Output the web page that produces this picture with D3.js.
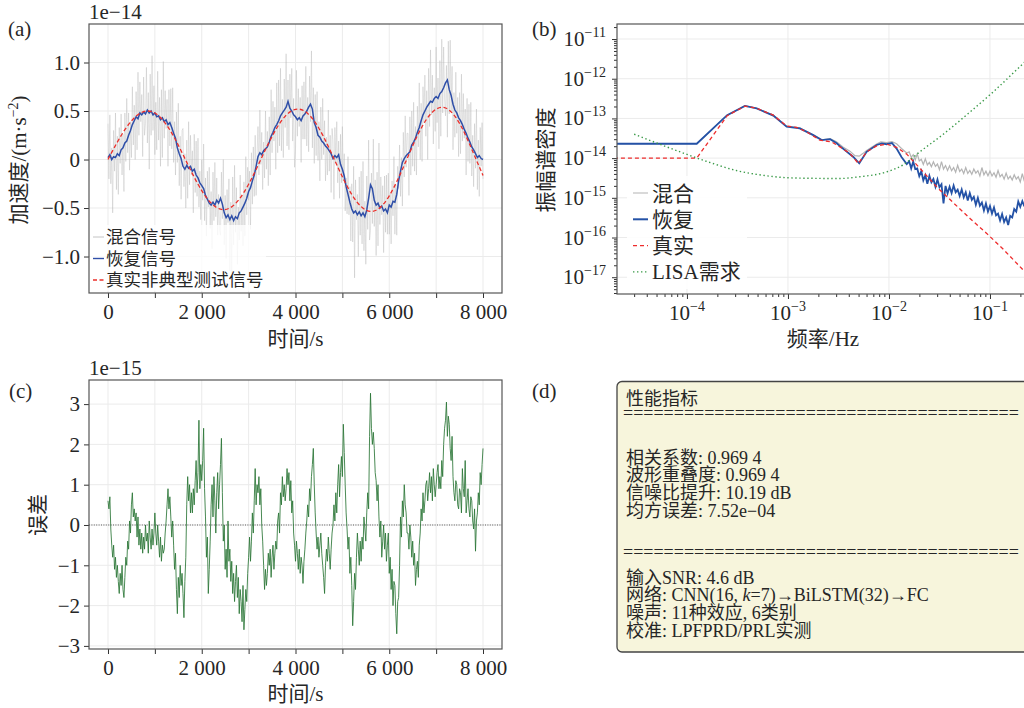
<!DOCTYPE html>
<html>
<head>
<meta charset="utf-8">
<script src="https://cdn.jsdelivr.net/npm/d3@7/dist/d3.min.js"></script>
<style>
  body { margin: 0; background: #fff; }
  text { font-family: 'Liberation Serif', 'Times New Roman', 'Noto Sans CJK SC', serif; fill: #262626; }
</style>
</head>
<body>
<svg id="chart" width="1024" height="708"></svg>
<script>
// ---------- time series (a): values in 1e-14 m/s^2, (c): values in 1e-15
const mixStep = 20, recStep = 40, trueStep = 200, errStep = 20;

const mixedSignal = [
  .37,-.20,.46,-.25,.12,-.55,.30,-.12,.48,-.31, .24,-.36,.33,-.04,.47,-.16,.26,-.33,.48,-.02,
  .63,.07,.48,-.11,.39,.02,.75,.15,.56,.00, .70,.10,.90,.25,.80,.39,.67,.03,.85,.25,
  .37,.95,.17,.69,-.10,.88,.25,1.07,.30,.76, .05,.59,.10,.91,.20,.64,-.07,.72,.02,1.01,
  .22,.71,.32,.62,-.07,.72,.14,.73,.11,.74, -.03,.39,-.16,.49,-.03,.58,-.27,.24,-.41,.30,
  .32,-.28,.06,-.50,.20,-.40,.39,-.26,.25,-.16, .09,-.55,.26,-.34,.19,-.38,.22,-.49,-.12,-.62,
  .00,-.42,.16,-.63,-.19,-.79,-.12,-.49,-.08,-.71, -.33,-.92,-.13,-.63,-.03,-.59,-.19,-.78,-.36,-.73,
  -.78,-.13,-.61,.00,-.88,-.37,-1.02,-.31,-.65,-.20, -1.15,-.44,-1.17,-.18,-.88,-.06,-.75,-.29,-1.08,-.49,
  -.83,-.16,-.74,-.37,-.89,-.23,-.79,.03,-.57,-.08, -.42,-.12,-.72,.07,-.46,.13,-.38,.25,-.37,.05,
  .34,-.16,.51,-.05,.28,-.31,.18,-.19,.50,-.10, .29,-.27,.44,-.16,.72,.07,.60,.19,.54,-.10,
  .79,.07,.82,.14,.94,.09,.62,.02,.83,.33, 1.09,.14,.82,.10,.88,.43,.94,.19,.63,-.08,
  .10,.92,.24,.73,.34,.64,-.03,.76,.21,.80, .21,.96,.14,.64,.08,.86,.39,1.12,.12,.74,
  -.04,.67,.04,.70,-.01,.39,-.22,.54,.00,.63, .05,.40,-.22,.23,-.16,.51,-.12,.25,-.34,.32,
  .19,-.41,.33,-.04,.39,-.24,.19,-.40,.26,-.24, .34,-.22,.06,-.53,-.19,-.56,.03,-.57,-.28,-.84,
  -.25,-.85,-.07,-1.22,-.21,-.62,-.36,-1.00,-.18,-.78, -.12,-.87,-.02,-.94,-.43,-1.08,-.17,-.72,.20,-.83,
  -.73,-.14,-.66,.21,-.69,-.21,-.99,-.13,-.89,.17, -.67,-.18,-.57,-.27,-.96,-.17,-.75,-.16,-.77,-.14,
  -.77,-.35,-.87,-.22,-.58,.03,-.77,-.26,-.78,-.07, -.30,.15,-.38,.02,-.48,.28,-.18,.45,-.08,.27,
  .27,-.37,.44,-.16,.50,-.07,.59,-.12,.34,-.16, .55,.13,.79,.00,.58,-.02,.75,.38,.87,.24,
  .71,.00,.94,.34,1.13,.46,.87,.16,.74,.29, 1.16,.38,.84,.11,1.02,.24,1.24,.48,1.16,.62,
  .45,.97,.23,1.22,.47,1.23,.50,.96,.10,.69, .23,.90,.27,.64,.03,.69,.06,.88,.19,.68,
  .22,.52,-.16,.63,-.02,.57,-.04,.59,-.17,.25, -.28,.37,-.09,.52,-.31,.20,-.38,.33,-.07,.38,
  -.20
];

const recoveredSignal = [
  .02,.05,.00,.03,.02, .06,.04,.10,.12,.17, .19,.25,.30,.36,.40, .44,.42,.48,.46,.49,
  .47,.51,.48,.50,.46, .48,.44,.45,.41,.43, .39,.41,.36,.38,.33, .27,.22,.12,.06,.01,
  -.07,-.10,-.06,-.09,-.07, -.12,-.10,-.16,-.19,-.24, -.27,-.30,-.37,-.41,-.45, -.47,-.44,-.47,-.42,-.45,
  -.40,-.46,-.55,-.60,-.57, -.62,-.58,-.63,-.59,-.61, -.55,-.53,-.49,-.45,-.40, -.33,-.29,-.22,-.16,-.07,
  .03,.07,.05,.09,.11, .13,.18,.24,.28,.33, .36,.40,.45,.48,.51, .54,.60,.53,.50,.46,
  .44,.41,.43,.40,.45, .47,.50,.54,.57,.52, .38,.33,.25,.23,.19, .17,.14,.12,.09,.06,
  .01,.04,.02,.05,-.05, -.10,-.17,-.28,-.36,-.44, -.51,-.55,-.53,-.57,-.54, -.58,-.55,-.59,-.52,-.40,
  -.26,-.30,-.42,-.47,-.45, -.50,-.48,-.53,-.51,-.55, -.47,-.49,-.43,-.44,-.36, -.22,-.12,-.03,.01,.04,
  .06,.08,.15,.18,.22, .28,.33,.40,.46,.50, .54,.57,.60,.59,.63, .65,.63,.68,.70,.74,
  .79,.82,.72,.66,.57, .51,.48,.43,.40,.36, .31,.27,.22,.18,.13, .10,.06,.02,.04,.01,
  .00
];

const trueSignal = [
  0,.180,.336,.447,.498,.479,.389,.239,.051,-.145,-.321,-.449,-.512,-.499,-.409,-.255,-.061,.143,.325,.456,
  .517,.497,.397,.233,.030,-.178,-.360,-.485,-.535,-.497,-.374,-.187,.032,.246,.418,.519,.531,.447,.279,.061,
  -.165
];

const errorSignal = [
  .6,.4,.7,-.1,-.5,-.8,-.5,-1.1,-.8,-1.3, -1.0,-1.4,-1.7,-1.2,-1.5,-1.0,-1.6,-1.8,-1.3,-.8,
  -1.0,-.4,-.6,.1,-.2,.5,.8,.2,.4,.1, .3,-.3,.2,-.5,-.1,-.6,-.2,-.7,-.3,-.6,
  .0,-.4,-.2,-.7,.1,-.3,-.6,-.1,-.5,-.2, .3,-.2,-.5,.0,-.4,-.8,-.3,-.9,-.5,-.7,
  -.6,-.2,.1,.5,.9,.4,.7,.2,-.3,.1, -.5,-1.1,-.7,-1.6,-2.2,-1.3,-1.8,-1.0,-1.5,-1.2,
  -1.7,-2.3,-1.4,-.8,.5,1.2,.6,1.0,.3,.8, .3,.9,.5,1.1,1.6,.8,1.3,2.6,.9,1.5,
  1.1,1.6,2.4,.9,.2,-.8,-.3,-1.7,-1.1,-.4, .5,1.0,.2,1.2,.6,-.2,.8,1.3,.4,1.0,
  1.5,2.15,.8,-.4,.0,-1.1,-.6,-1.3,.1,-.9, -.6,-1.4,-.9,-1.7,-1.2,-1.9,-1.4,-1.0,-1.8,-1.3,
  -2.2,-1.6,-1.9,-2.4,-1.5,-2.6,-2.1,-1.6,-1.9,-1.2, -.8,-.3,-.9,-.4,.3,-.2,.6,1.4,.5,1.0,
  .8,1.2,.5,.9,.0,-.4,-1.0,-1.6,-1.1,-1.5, -1.2,-.7,-1.0,-.6,-1.3,-.8,-.5,-1.1,-.7,-.4,
  -.6,.1,.3,-.2,.8,.5,1.2,.7,1.0,.6, .9,1.4,1.0,1.3,.6,1.1,.3,.6,-.2,-.5,
  -.9,-.4,-.7,-1.1,-.6,-1.2,-.8,-1.0,-1.45,-.9, -.6,-.2,.1,.5,.2,.9,.6,1.2,1.5,1.9,
  1.0,.3,-.2,-.6,-.3,-.8,-.5,-.2,-.7,-1.0, -1.3,-1.7,-1.0,-.6,-.9,-.3,-.7,-1.1,-.6,-.2,
  .0,.5,.1,.8,.3,1.0,1.5,.7,1.3,1.7, 1.2,2.5,1.8,1.0,.3,-.1,-.6,-.3,-1.2,-.8,
  -1.5,-2.5,-1.9,-1.2,-1.6,-.8,-.2,-.6,-1.0,-.4, -.9,-.3,-.6,.2,-.1,-.4,.3,.8,.4,2.2,
  3.27,2.4,2.0,2.3,1.9,1.3,1.1,.6,1.0,.2, -.3,.1,-.8,-.4,.0,-.6,-.2,-.9,-.5,-.2,
  -1.2,-.8,-1.6,-1.1,-2.0,-1.4,-1.5,-2.2,-2.7,-1.9, -1.8,-1.0,.2,-.3,.6,.2,1.0,.5,.3,-.2,
  -.2,-.6,.0,-.3,-.8,-.4,-1.0,-.7,-1.5,-1.1, -.9,-1.3,-.5,-.2,.4,.1,.8,.3,.6,1.0,
  1.1,.6,.9,1.3,.8,1.2,.6,1.4,1.0,.7, 1.0,1.3,1.5,.9,1.2,.9,1.6,1.2,2.0,2.4,
  2.6,3.05,2.2,2.7,2.5,1.9,1.6,2.2,1.2,.8, .6,1.1,1.0,.5,.4,.9,.8,.3,1.4,.9,
  .7,1.6,.3,.6,.9,.4,.2,.7,.6,.1, -.1,.4,-.65,.1,.3,.8,.5,1.3,1.0,1.5,
  1.9
];

const timeTicks = [0, 1000, 2000, 3000, 4000, 5000, 6000, 7000, 8000];
const accelTicks = [-1.0, -0.5, 0, 0.5, 1.0];
const errorTicks = [-3, -2, -1, 0, 1, 2, 3];

// ---------- amplitude spectral density (b)
const psdFreqTrue = [1e-5,1.25e-4,2.5e-4,3.75e-4,4.9e-4,7.16e-4,9.7e-4,1.22e-3,1.53e-3,2.07e-3,2.7e-3,3.27e-3,4.11e-3,
  4.97e-3,6.01e-3,7.55e-3,9.48e-3,1.19e-2,1.5e-2,2.03e-2,2.96e-2,4.34e-2,6.34e-2,9.27e-2,0.136,0.217,0.5];
const psdTrue = [1.0e-14,1.0e-14,1.17e-13,2.04e-13,1.79e-13,1.21e-13,6.4e-14,5.93e-14,4.59e-14,2.84e-14,2.57e-14,1.92e-14,1.31e-14,
  7.35e-15,1.44e-14,2.04e-14,2.25e-14,1.86e-14,1.26e-14,5.5e-15,1.9e-15,7.5e-16,3.03e-16,1.27e-16,5.0e-17,1.45e-17,1.6e-18];

const psdFreqRec = [1e-5,1.25e-4,2.5e-4,3.75e-4,4.9e-4,7.16e-4,9.7e-4,1.31e-3,1.78e-3,2.16e-3,2.61e-3,3.02e-3,3.27e-3,
  4.44e-3,5.08e-3,6.01e-3,7.55e-3,8.5e-3,9.48e-3,1.07e-2,1.19e-2,1.33e-2,1.5e-2];
const psdRec = [2.3e-14,2.3e-14,1.21e-13,2.07e-13,1.78e-13,1.18e-13,6.2e-14,5.6e-14,3.8e-14,2.84e-14,3.0e-14,2.4e-14,2.0e-14,
  1.07e-14,7.4e-15,1.44e-14,2.14e-14,2.34e-14,2.24e-14,2.4e-14,1.74e-14,1.07e-14,7.1e-15];

const psdFreqMix = [1e-5,1.25e-4,2.5e-4,3.75e-4,4.9e-4,7.16e-4,9.7e-4,1.31e-3,1.78e-3,2.16e-3,2.61e-3,3.02e-3,3.5e-3,
  4.11e-3,4.6e-3,5.08e-3,5.5e-3,6.01e-3,7.55e-3,8.3e-3,9.48e-3,1.07e-2,1.19e-2,1.33e-2,1.5e-2];
const psdMix = [2.3e-14,2.3e-14,1.21e-13,2.1e-13,1.8e-13,1.22e-13,6.4e-14,5.8e-14,3.9e-14,2.9e-14,3.1e-14,2.6e-14,1.9e-14,
  1.5e-14,1.15e-14,1.12e-14,1.3e-14,1.55e-14,2.25e-14,2.55e-14,2.45e-14,2.6e-14,2.3e-14,1.75e-14,1.35e-14];

// high-frequency part, where the recovered and mixed spectra are noisy
const hfFreq = [.01585,.0166,.01738,.0182,.01905,.01995,.02089,.02188,.02291,.02399,.02512,.0263,.02754,.02884,.0302,
  .03162,.03311,.03467,.03631,.03802,.03981,.04169,.04365,.04571,.04786,.05012,.05248,.05495,.05754,.06026,.0631,.06607,
  .06918,.07244,.07586,.07943,.08318,.0871,.0912,.0955,.1,.1047,.1096,.1148,.1202,.1259,.1318,.138,.1445,.1514,.1585,
  .166,.1738,.182,.1905,.1995,.2089,.2188];
const psdRecHf = [8.3e-15,5.5e-15,8.2e-15,5.3e-15,5.5e-15,3.5e-15,4.7e-15,2.75e-15,3.7e-15,2.25e-15,
  3.6e-15,2.47e-15,2.99e-15,1.9e-15,2.9e-15,1.85e-15,2.19e-15,7.2e-16,2.0e-15,1.29e-15,
  1.9e-15,1.32e-15,2.04e-15,1.38e-15,1.61e-15,1.11e-15,1.62e-15,1.03e-15,1.38e-15,8.5e-16,
  1.32e-15,8.9e-16,1.06e-15,6.7e-16,1.0e-15,6.3e-16,7.6e-16,4.8e-16,7.2e-16,4.5e-16,
  6.2e-16,4.0e-16,5.7e-16,3.6e-16,4.0e-16,2.7e-16,3.9e-16,2.45e-16,3.2e-16,2.07e-16,
  3.5e-16,3.2e-16,5.2e-16,4.5e-16,8.1e-16,5.9e-16,8.3e-16,6.1e-16];
const psdMixHf = [1.44e-14,1.05e-14,1.22e-14,8.95e-15,1.28e-14,8.5e-15,9.4e-15,6.9e-15,9.6e-15,6.75e-15,
  7.8e-15,6.1e-15,8.1e-15,6.2e-15,7.1e-15,5.1e-15,8.2e-15,5.3e-15,6.5e-15,4.9e-15,
  6.4e-15,4.8e-15,5.8e-15,4.4e-15,6.6e-15,4.6e-15,5.3e-15,4.1e-15,5.8e-15,4.1e-15,
  4.9e-15,3.9e-15,5.3e-15,4.2e-15,4.85e-15,3.55e-15,5.8e-15,3.8e-15,4.7e-15,3.6e-15,
  4.7e-15,3.55e-15,4.3e-15,3.3e-15,4.85e-15,3.4e-15,3.9e-15,2.96e-15,4.2e-15,2.98e-15,
  3.5e-15,2.8e-15,3.8e-15,2.96e-15,3.4e-15,2.5e-15,4.05e-15,2.6e-15];

const lisaFreq = [3e-5,5.62e-5,1e-4,1.78e-4,3.16e-4,5.62e-4,1e-3,1.78e-3,3.16e-3,5.16e-3,9.48e-3,1.38e-2,1.62e-2,
  2.03e-2,3.45e-2,6.34e-2,0.108,0.214,0.5];
const lisaReq = [4.0e-14,2.15e-14,1.24e-14,7.4e-15,4.8e-15,3.7e-15,3.2e-15,3.1e-15,3.06e-15,3.4e-15,4.5e-15,6.8e-15,9.1e-15,
  1.45e-14,4.0e-14,1.45e-13,4.7e-13,2.45e-12,2e-11];

const freqMajor = [1e-4, 1e-3, 1e-2, 1e-1];
const asdMajor = [1e-17, 1e-16, 1e-15, 1e-14, 1e-13, 1e-12, 1e-11];

// ---------- (d) text box
const metricTitle = "性能指标";
const metricRows = ["相关系数: 0.969 4", "波形重叠度: 0.969 4", "信噪比提升: 10.19 dB", "均方误差: 7.52e−04"];
const infoRows = ["输入SNR: 4.6 dB", null, "噪声: 11种效应, 6类别", "校准: LPFPRD/PRL实测"];

// ---------------------------------------------------------------------------
const W = 413, H = 269;
const svg = d3.select("#chart");
const defs = svg.append("defs");
const grid = "#ebebeb";

function clip(id, w, h) {
    defs.append("clipPath").attr("id", id).append("rect").attr("width", w).attr("height", h);
    return `url(#${id})`;
}

function styleAxis(sel, size) {
    sel.select(".domain").remove();
    sel.attr("font-size", size || 21);
    sel.selectAll(".tick line").attr("stroke", "#333").attr("stroke-width", 1);
    sel.selectAll(".tick text").attr("fill", "#262626");
}

function frame(g, w, h) {
    g.append("rect").attr("width", w).attr("height", h)
        .attr("fill", "none").attr("stroke", "#555").attr("stroke-width", 1.2);
}

function label(x, y, txt, opts) {
    opts = opts || {};
    const t = svg.append("text").attr("x", x).attr("y", y)
        .attr("font-size", opts.size || 21)
        .attr("text-anchor", opts.anchor || "start")
        .text(txt);
    if (opts.rotate) t.attr("transform", `rotate(-90,${x},${y})`);
    return t;
}

const fmtTime = d => d === 0 ? "0" : d3.format(",")(d).replace(",", " ");

function timeAxes(g, x, y, yTicks, yFmt) {
    g.append("g").selectAll("line").data(timeTicks).join("line")
        .attr("x1", d => x(d)).attr("x2", d => x(d)).attr("y1", 0).attr("y2", H)
        .attr("stroke", grid).attr("stroke-width", 1);
    g.append("g").selectAll("line").data(yTicks).join("line")
        .attr("x1", 0).attr("x2", W).attr("y1", d => y(d)).attr("y2", d => y(d))
        .attr("stroke", grid).attr("stroke-width", 1);

    const ax = g.append("g").attr("transform", `translate(0,${H})`)
        .call(d3.axisBottom(x).tickValues(timeTicks).tickSize(5).tickPadding(6)
            .tickFormat(d => d % 2000 ? "" : fmtTime(d)));
    styleAxis(ax);
    const ay = g.append("g")
        .call(d3.axisLeft(y).tickValues(yTicks).tickSize(5).tickPadding(4).tickFormat(yFmt));
    styleAxis(ay);
}

// ===================== (a) =====================
{
    const g = svg.append("g").attr("transform", "translate(89,24)");
    const x = d3.scaleLinear().domain([-405, 8405]).range([0, W]);
    const y = d3.scaleLinear().domain([-1.376, 1.397]).range([H, 0]);
    timeAxes(g, x, y, accelTicks, d => d === 0 ? "0" : d3.format(".1f")(d));

    const plot = g.append("g").attr("clip-path", clip("clipA", W, H));
    const line = step => d3.line().x((d, i) => x(i * step)).y(d => y(d));

    plot.append("path").datum(mixedSignal)
        .attr("d", line(mixStep)).attr("fill", "none")
        .attr("stroke", "#b4b4b4").attr("stroke-opacity", 0.5).attr("stroke-width", 0.75);
    plot.append("path").datum(recoveredSignal)
        .attr("d", line(recStep)).attr("fill", "none")
        .attr("stroke", "#2f4fa8").attr("stroke-width", 1.5);
    plot.append("path").datum(trueSignal)
        .attr("d", line(trueStep).curve(d3.curveNatural)).attr("fill", "none")
        .attr("stroke", "#ec2f2a").attr("stroke-width", 1.3).attr("stroke-dasharray", "4,2.5");

    // legend
    const lg = g.append("g");
    lg.append("rect").attr("x", 1).attr("y", 201).attr("width", 176).attr("height", 66)
        .attr("fill", "#fff").attr("fill-opacity", 0.8);
    const items = [
        {name: "混合信号", color: "#c4c4c4", dash: null, w: 1},
        {name: "恢复信号", color: "#2f4fa8", dash: null, w: 1.4},
        {name: "真实非典型测试信号", color: "#ec2f2a", dash: "4,2.5", w: 1.3}
    ];
    items.forEach((it, i) => {
        const cy = 213 + i * 21.5;
        lg.append("line").attr("x1", 4).attr("x2", 15).attr("y1", cy).attr("y2", cy)
            .attr("stroke", it.color).attr("stroke-width", it.w).attr("stroke-dasharray", it.dash);
        lg.append("text").attr("x", 17).attr("y", cy + 6.3).attr("font-size", 17.5).text(it.name);
    });

    frame(g, W, H);
}
label(8, 36, "(a)");
label(89, 19, "1e−14");
label(295.5, 346, "时间/s", {anchor: "middle"});
{
    const t = label(26, 160, "加速度/(m·s", {anchor: "middle", rotate: true});
    t.append("tspan").attr("font-size", 14).attr("dy", -8).text("−2");
    t.append("tspan").attr("dy", 8).text(")");
}

// ===================== (b) =====================
{
    const HB = 270;
    const g = svg.append("g").attr("transform", "translate(617,24)");
    const x = d3.scaleLog().domain([2.03e-5, 0.249]).range([0, W]);
    const y = d3.scaleLog().domain([3.78e-18, 2.39e-11]).range([HB, 0]);

    g.append("g").selectAll("line").data(freqMajor).join("line")
        .attr("x1", d => x(d)).attr("x2", d => x(d)).attr("y1", 0).attr("y2", HB)
        .attr("stroke", grid);
    g.append("g").selectAll("line").data(asdMajor).join("line")
        .attr("x1", 0).attr("x2", W).attr("y1", d => y(d)).attr("y2", d => y(d))
        .attr("stroke", grid);

    const xMinor = x.ticks().filter(d => !freqMajor.some(m => Math.abs(m - d) / m < 1e-6));
    const yMinor = y.ticks().filter(d => !asdMajor.some(m => Math.abs(m - d) / m < 1e-6));
    styleAxis(g.append("g").attr("transform", `translate(0,${HB})`)
        .call(d3.axisBottom(x).tickValues(xMinor).tickSize(3).tickFormat("")));
    styleAxis(g.append("g").call(d3.axisLeft(y).tickValues(yMinor).tickSize(3).tickFormat("")));
    styleAxis(g.append("g").attr("transform", `translate(0,${HB})`)
        .call(d3.axisBottom(x).tickValues(freqMajor).tickSize(5).tickFormat("")));
    styleAxis(g.append("g").call(d3.axisLeft(y).tickValues(asdMajor).tickSize(5).tickFormat("")));

    const expo = d => Math.round(Math.log10(d));
    const sup = (sel) => {
        sel.append("tspan").text("10");
        sel.append("tspan").attr("font-size", 14).attr("dy", -9).text(d => "−" + Math.abs(expo(d)));
    };
    g.append("g").selectAll("text").data(freqMajor).join("text")
        .attr("x", d => x(d)).attr("y", HB + 26).attr("font-size", 21).attr("text-anchor", "middle")
        .call(sup);
    g.append("g").selectAll("text").data(asdMajor).join("text")
        .attr("x", -11).attr("y", d => y(d) + 7).attr("font-size", 21).attr("text-anchor", "end")
        .call(sup);

    const plot = g.append("g").attr("clip-path", clip("clipB", W, HB));
    const line = d3.line().x(d => x(d[0])).y(d => y(d[1]));

    plot.append("path").datum(d3.zip(psdFreqMix.concat(hfFreq), psdMix.concat(psdMixHf)))
        .attr("d", line).attr("fill", "none")
        .attr("stroke", "#b4b4b4").attr("stroke-width", 1.2);
    plot.append("path").datum(d3.zip(psdFreqRec.concat(hfFreq), psdRec.concat(psdRecHf)))
        .attr("d", line).attr("fill", "none")
        .attr("stroke", "#2452a6").attr("stroke-width", 1.8);
    plot.append("path").datum(d3.zip(psdFreqTrue, psdTrue))
        .attr("d", line).attr("fill", "none")
        .attr("stroke", "#ee2c2c").attr("stroke-width", 1.3).attr("stroke-dasharray", "4,3");
    plot.append("path").datum(d3.zip(lisaFreq, lisaReq))
        .attr("d", line.curve(d3.curveMonotoneX)).attr("fill", "none")
        .attr("stroke", "#3a9a48").attr("stroke-width", 1.4).attr("stroke-dasharray", "1.4,2.6");

    // legend
    const lg = g.append("g");
    lg.append("rect").attr("x", 10).attr("y", 152).attr("width", 120).attr("height", 113)
        .attr("fill", "#fff").attr("fill-opacity", 0.9);
    const items = [
        {name: "混合", color: "#c4c4c4", dash: null, w: 1.3},
        {name: "恢复", color: "#2452a6", dash: null, w: 2},
        {name: "真实", color: "#ee2c2c", dash: "4,3", w: 1.4},
        {name: "LISA需求", color: "#3a9a48", dash: "1.4,2.6", w: 1.4}
    ];
    items.forEach((it, i) => {
        const cy = 169 + i * 26.3;
        lg.append("line").attr("x1", 16).attr("x2", 31).attr("y1", cy).attr("y2", cy)
            .attr("stroke", it.color).attr("stroke-width", it.w).attr("stroke-dasharray", it.dash);
        lg.append("text").attr("x", 35).attr("y", cy + 7.5).attr("font-size", 21).text(it.name);
    });

    frame(g, W, HB);
}
label(532, 36, "(b)");
label(823, 346, "频率/Hz", {anchor: "middle"});
label(553, 160, "振幅谱密度", {anchor: "middle", rotate: true});

// ===================== (c) =====================
{
    const g = svg.append("g").attr("transform", "translate(89,380)");
    const x = d3.scaleLinear().domain([-405, 8405]).range([0, W]);
    const y = d3.scaleLinear().domain([-3.077, 3.598]).range([H, 0]);
    timeAxes(g, x, y, errorTicks, d3.format("d"));

    const plot = g.append("g").attr("clip-path", clip("clipC", W, H));
    plot.append("line").attr("x1", 0).attr("x2", W).attr("y1", y(0)).attr("y2", y(0))
        .attr("stroke", "#333").attr("stroke-width", 0.8).attr("stroke-dasharray", "1,1.4");
    plot.append("path").datum(errorSignal)
        .attr("d", d3.line().x((d, i) => x(i * errStep)).y(d => y(d)))
        .attr("fill", "none").attr("stroke", "#2a7636").attr("stroke-opacity", 0.85).attr("stroke-width", 1);

    frame(g, W, H);
}
label(9, 398, "(c)");
label(89, 375, "1e−15");
label(295.5, 701, "时间/s", {anchor: "middle"});
label(45, 515, "误差", {anchor: "middle", rotate: true});

// ===================== (d) =====================
label(532, 398, "(d)");
{
    const g = svg.append("g");
    g.append("rect").attr("x", 617).attr("y", 381.5).attr("width", 520).attr("height", 270.5)
        .attr("rx", 5).attr("fill", "#f7f5dc").attr("stroke", "#444").attr("stroke-width", 1.3);
    // one multi-line text block, like the original text box
    const x0 = 626, rule = "=".repeat(39);
    const block = g.append("text").attr("font-size", 18);
    const row = (y, x) => block.append("tspan").attr("x", x || x0).attr("y", y);
    row(404.5).text(metricTitle);
    row(418.5, 623).text(rule);
    metricRows.forEach((r, i) => row(463.5 + i * 17.8).text(r));
    row(558, 623).text(rule);
    infoRows.forEach((r, i) => {
        const t = row(583.5 + i * 17.8);
        if (r) { t.text(r); return; }
        t.text("网络: CNN(16, ");
        block.append("tspan").attr("font-style", "italic").text("k");
        block.append("tspan").text("=7)→BiLSTM(32)→FC");
    });
}
</script>
</body>
</html>
